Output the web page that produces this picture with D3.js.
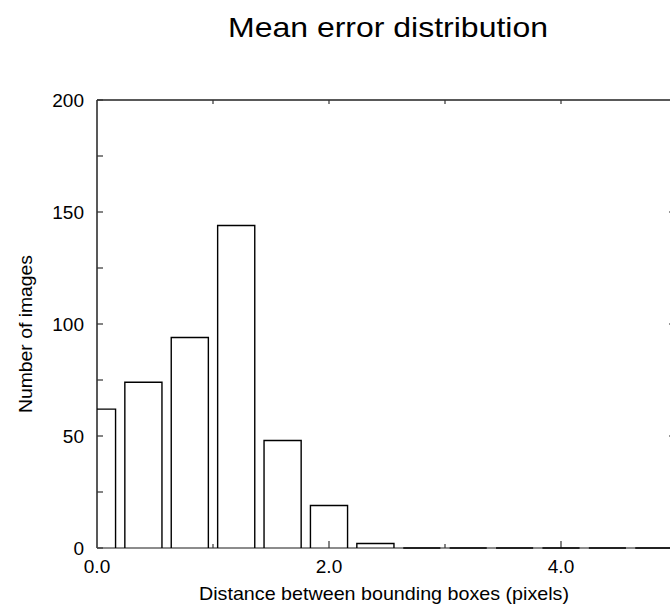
<!DOCTYPE html>
<html>
<head>
<meta charset="utf-8">
<script src="https://cdn.jsdelivr.net/npm/d3@7"></script>
<style>
  body { margin: 0; background: #fff; }
  text { font-family: "Liberation Sans", Arial, sans-serif; fill: #000; }
</style>
</head>
<body>
<svg id="chart" width="670" height="608"></svg>
<script>
// histogram bins (bin centres, in pixels) and counts
const binCenters = [0.0, 0.4, 0.8, 1.2, 1.6, 2.0, 2.4, 2.8, 3.2, 3.6, 4.0, 4.4, 4.8];
const counts = [62, 74, 94, 144, 48, 19, 2, 0, 0, 0, 0, 0, 0];
const yTickLabels = [0, 50, 100, 150, 200];
const xTickLabels = [0, 2, 4];
const barWidth = 0.32;

const svg = d3.select("#chart");
const W = 670, H = 608;

const x = d3.scaleLinear().domain([0, 5]).range([97, 677]);
const y = d3.scaleLinear().domain([0, 200]).range([548, 100]);

// clip so the first bar is cut at 0 and right side at window edge
svg.append("clipPath").attr("id", "plot")
  .append("rect").attr("x", x(0)).attr("y", 0).attr("width", W - x(0)).attr("height", H);

const frame = svg.append("g").attr("stroke", "#222").attr("stroke-width", 1.5).attr("fill", "none");
// box axes
frame.append("path").attr("d", `M${x(0)},${y(200)}H${x(5)}`);
frame.append("path").attr("d", `M${x(0)},${y(0)}V${y(200)}`);
frame.append("path").attr("d", `M${x(5)},${y(0)}V${y(200)}`);
frame.append("path").attr("stroke", "#666").attr("d", `M${x(0)},${y(0)}H${x(5)}`);

// left ticks every 25
const ticks = svg.append("g").attr("stroke", "#333").attr("stroke-width", 1.2);
ticks.selectAll(".ly").data(d3.range(0, 201, 25)).join("line")
  .attr("x1", x(0)).attr("x2", x(0) + 6)
  .attr("y1", d => y(d)).attr("y2", d => y(d));
// right ticks
ticks.selectAll(".ry").data([50, 100, 150]).join("line")
  .attr("x1", 669).attr("x2", 672)
  .attr("y1", d => y(d)).attr("y2", d => y(d));
// bottom / top ticks
ticks.selectAll(".bx").data(d3.range(1, 5)).join("line")
  .attr("x1", d => x(d)).attr("x2", d => x(d))
  .attr("y1", y(0)).attr("y2", d => y(0) - (d % 2 === 0 ? 7 : 4));
ticks.selectAll(".tx").data(d3.range(1, 5)).join("line")
  .attr("x1", d => x(d)).attr("x2", d => x(d))
  .attr("y1", y(200)).attr("y2", y(200) + 4);

// bars
svg.append("g").attr("clip-path", "url(#plot)")
  .selectAll("path").data(binCenters).join("path")
  .attr("fill", "none").attr("stroke", "#000").attr("stroke-width", 1.4)
  .attr("d", (c, i) => {
    const x0 = x(c - barWidth / 2), x1 = x(c + barWidth / 2);
    return counts[i] > 0
      ? `M${x0},${y(0)}V${y(counts[i])}H${x1}V${y(0)}`
      : `M${x0},${y(0)}H${x1}`;
  });

// tick labels
svg.append("g").attr("font-size", 19).attr("text-anchor", "end")
  .selectAll("text").data(yTickLabels).join("text")
  .attr("x", 84).attr("y", d => y(d)).attr("dy", "0.36em").text(d => d);
svg.append("g").attr("font-size", 19).attr("text-anchor", "middle")
  .selectAll("text").data(xTickLabels).join("text")
  .attr("x", d => x(d)).attr("y", 573).text(d => d3.format(".1f")(d));

// titles
svg.append("text").attr("x", 388).attr("y", 37).attr("text-anchor", "middle")
  .attr("font-size", 28).attr("textLength", 320).attr("lengthAdjust", "spacingAndGlyphs")
  .text("Mean error distribution");
svg.append("text").attr("x", 384).attr("y", 600).attr("text-anchor", "middle")
  .attr("font-size", 18.5).attr("textLength", 370).attr("lengthAdjust", "spacingAndGlyphs")
  .text("Distance between bounding boxes (pixels)");
svg.append("text").attr("transform", "translate(32,334) rotate(-90)")
  .attr("text-anchor", "middle").attr("font-size", 18.5)
  .attr("textLength", 158).attr("lengthAdjust", "spacingAndGlyphs")
  .text("Number of images");
</script>
</body>
</html>
